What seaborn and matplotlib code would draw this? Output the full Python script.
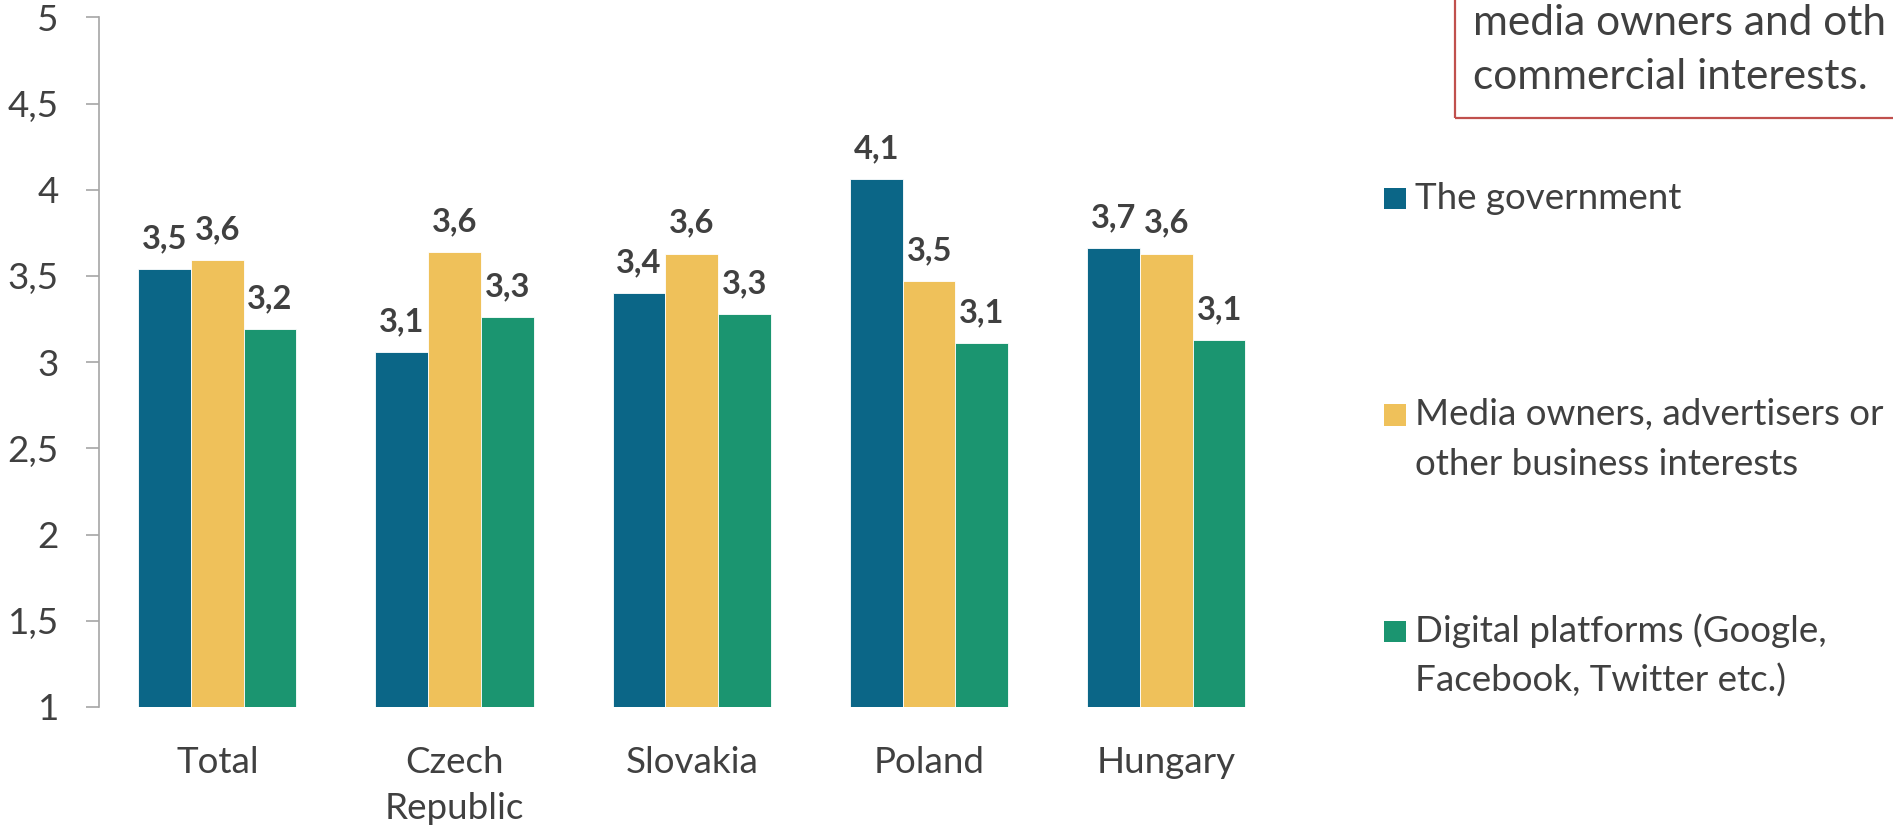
import matplotlib
matplotlib.use("Agg")
import matplotlib.pyplot as plt
import matplotlib.patches as mpatches
from matplotlib.ticker import FuncFormatter
import seaborn as sns
import pandas as pd

categories = ["Total", "Czech\nRepublic", "Slovakia", "Poland", "Hungary"]
series_names = [
    "The government",
    "Media owners, advertisers or\nother business interests",
    "Digital platforms (Google,\nFacebook, Twitter etc.)",
]
government = [3.54, 3.06, 3.40, 4.06, 3.66]
media_owners = [3.59, 3.64, 3.63, 3.47, 3.63]
digital_platforms = [3.19, 3.26, 3.28, 3.11, 3.13]
colors = ["#0B6687", "#EFC15A", "#1B9570"]
y_ticks = [1, 1.5, 2, 2.5, 3, 3.5, 4, 4.5, 5]
box_lines = ["media owners and oth", "commercial interests."]

TXT = "#404040"
FONT = "Lato"
FS = 26.5

sns.set_theme(style="white")
plt.rcParams["font.family"] = [FONT, "DejaVu Sans"]

rows = []
for name, vals in zip(series_names, [government, media_owners, digital_platforms]):
    for c, v in zip(categories, vals):
        rows.append({"category": c, "series": name, "value": v})
df = pd.DataFrame(rows)

W, H = 1893, 832
fig = plt.figure(figsize=(W / 100, H / 100), dpi=100)
ax = fig.add_axes([98.7 / W, 1 - 707 / H, (1285 - 98.7) / W, (707 - 17.3) / H])

sns.barplot(data=df, x="category", y="value", hue="series", order=categories,
            hue_order=series_names, palette=colors, width=0.667, ax=ax,
            saturation=1, legend=False, edgecolor="white", linewidth=0.6)

ax.set_xlim(-0.5, 4.5)
ax.set_ylim(1, 5)
ax.set_yticks(y_ticks)
ax.yaxis.set_major_formatter(FuncFormatter(lambda v, p: (f"{v:g}").replace(".", ",")))
ax.set_xlabel("")
ax.set_ylabel("")
for s in ["top", "right", "bottom"]:
    ax.spines[s].set_visible(False)
ax.spines["left"].set_color("#A6A6A6")
ax.spines["left"].set_linewidth(1.2)
ax.tick_params(axis="y", length=9.7, width=1.2, color="#A6A6A6", pad=19,
               labelsize=FS, labelcolor=TXT, left=True)
ax.tick_params(axis="x", length=0, pad=28, labelsize=FS, labelcolor=TXT)
for lab in ax.get_xticklabels():
    lab.set_linespacing(1.5)

for container in ax.containers:
    for bar in container:
        lab = f"{bar.get_height():.1f}".replace(".", ",")
        ax.annotate(lab, (bar.get_x() + bar.get_width() / 2, bar.get_height()),
                    xytext=(0, 15), textcoords="offset points", ha="center",
                    va="baseline", fontsize=23.5, fontweight="bold", color=TXT)

# legend (handles aligned with the first line of each label)
leg_base = [209, 425.5, 642]
sq = 21.5
for name, col, yb in zip(series_names, colors, leg_base):
    fig.patches.append(mpatches.Rectangle((1384 / W, (H - yb) / H), sq / W, sq / H,
                                          transform=fig.transFigure, facecolor=col,
                                          edgecolor="none"))
    for i, line in enumerate(name.split("\n")):
        fig.text(1415 / W, (H - yb - 49.5 * i) / H, line, fontsize=FS, color=TXT,
                 va="baseline", ha="left")

# top-right annotation box (runs past the figure edge, as in the source)
fig.patches.append(mpatches.Rectangle((1455 / W, 1 - 118 / H), 0.4, 0.3,
                                      transform=fig.transFigure, facecolor="none",
                                      edgecolor="#C0504D", linewidth=1.6))
fig.text(1473 / W, 1 - 35 / H, box_lines[0], fontsize=30.5, color=TXT,
         va="baseline", ha="left")
fig.text(1473 / W, 1 - 89 / H, box_lines[1], fontsize=30.5, color=TXT,
         va="baseline", ha="left")

fig.savefig("out.png", dpi=100)
